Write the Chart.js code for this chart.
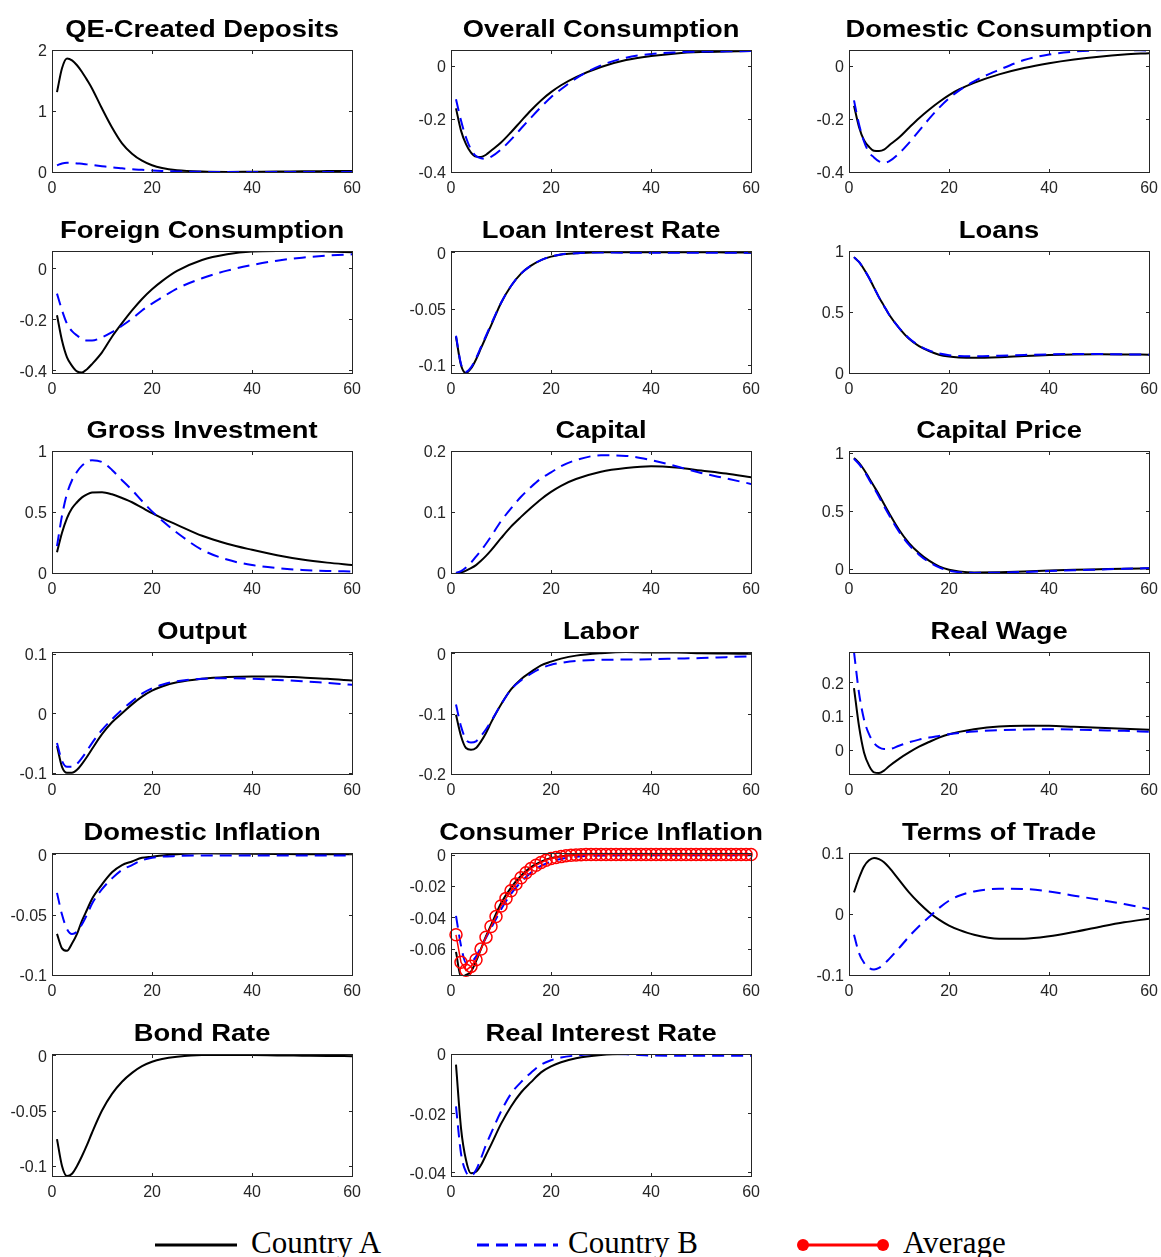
<!DOCTYPE html>
<html>
<head>
<meta charset="utf-8">
<script src="https://cdn.jsdelivr.net/npm/chart.js@4.4.1/dist/chart.umd.min.js"></script>
<style>
html, body { margin: 0; padding: 0; background: #fff; width: 1161px; height: 1257px; overflow: hidden; }
canvas.panel { position: absolute; }
#legend { position: absolute; left: 0; top: 1215px; }
</style>
</head>
<body>
<svg id="legend" width="1161" height="42">
	<line x1="155" y1="30" x2="237" y2="30" stroke="#000" stroke-width="3"/>
	<text x="251" y="38" font-family="Liberation Serif" font-size="31" fill="#000">Country A</text>
	<line x1="477" y1="30" x2="558" y2="30" stroke="#0000ff" stroke-width="3" stroke-dasharray="12 7"/>
	<text x="568" y="38" font-family="Liberation Serif" font-size="31" fill="#000">Country B</text>
	<line x1="803" y1="30" x2="883" y2="30" stroke="#ff0000" stroke-width="3"/>
	<circle cx="803" cy="30" r="6" fill="#ff0000"/>
	<circle cx="883" cy="30" r="6" fill="#ff0000"/>
	<text x="903" y="38" font-family="Liberation Serif" font-size="31" fill="#000">Average</text>
</svg>
<script>
var periods = [1, 2, 3, 4, 5, 6, 7, 8, 10, 12, 14, 16, 18, 20, 22, 25, 30, 35, 40, 45, 50, 55, 60];
var xTicks = [0, 20, 40, 60];

var qeA = [1.31, 1.70, 1.86, 1.83, 1.75, 1.64, 1.51, 1.37, 1.04, 0.73, 0.47, 0.30, 0.185, 0.11, 0.065, 0.03, 0.008, 0.002, 0.005, 0.008, 0.012, 0.015, 0.018];
var qeB = [0.11, 0.14, 0.15, 0.15, 0.14, 0.135, 0.125, 0.115, 0.095, 0.075, 0.06, 0.045, 0.035, 0.025, 0.018, 0.01, 0.003, 0, 0, 0, 0, 0, 0];

var overallA = [-0.16, -0.244, -0.295, -0.327, -0.342, -0.343, -0.335, -0.32, -0.289, -0.25, -0.208, -0.167, -0.13, -0.099, -0.073, -0.042, -0.004, 0.022, 0.037, 0.047, 0.052, 0.054, 0.056];
var overallB = [-0.126, -0.206, -0.27, -0.315, -0.34, -0.348, -0.35, -0.343, -0.315, -0.278, -0.236, -0.195, -0.155, -0.118, -0.088, -0.047, 0.002, 0.031, 0.045, 0.051, 0.054, 0.055, 0.056];

var domA = [-0.15, -0.23, -0.28, -0.305, -0.32, -0.321, -0.316, -0.30, -0.27, -0.233, -0.197, -0.165, -0.136, -0.11, -0.089, -0.064, -0.032, -0.008, 0.01, 0.024, 0.035, 0.043, 0.048];
var domB = [-0.13, -0.22, -0.285, -0.326, -0.345, -0.36, -0.365, -0.36, -0.33, -0.29, -0.245, -0.2, -0.158, -0.122, -0.093, -0.058, -0.015, 0.022, 0.043, 0.054, 0.059, 0.06, 0.058];

var forA = [-0.184, -0.283, -0.349, -0.382, -0.404, -0.408, -0.395, -0.375, -0.329, -0.268, -0.215, -0.165, -0.12, -0.082, -0.05, -0.01, 0.033, 0.055, 0.066, 0.068, 0.068, 0.066, 0.063];
var forB = [-0.099, -0.164, -0.217, -0.246, -0.263, -0.276, -0.283, -0.283, -0.27, -0.25, -0.225, -0.197, -0.165, -0.138, -0.114, -0.079, -0.039, -0.009, 0.013, 0.03, 0.042, 0.05, 0.055];

var loanRateA = [-0.075, -0.1, -0.107, -0.103, -0.095, -0.085, -0.075, -0.065, -0.045, -0.03, -0.019, -0.012, -0.007, -0.004, -0.002, -0.001, 0, 0, 0, 0, 0, -0.0003, -0.0005];
var loanRateB = [-0.074, -0.099, -0.106, -0.102, -0.094, -0.084, -0.074, -0.064, -0.045, -0.03, -0.019, -0.012, -0.007, -0.004, -0.002, -0.001, -0.0003, -0.0005, -0.0005, -0.0006, -0.0006, -0.0006, -0.0006];

var loansA = [0.95, 0.91, 0.85, 0.78, 0.7, 0.62, 0.55, 0.48, 0.37, 0.28, 0.22, 0.18, 0.15, 0.135, 0.128, 0.125, 0.13, 0.14, 0.148, 0.152, 0.153, 0.152, 0.15];
var loansB = [0.95, 0.91, 0.85, 0.78, 0.7, 0.62, 0.55, 0.48, 0.37, 0.285, 0.225, 0.185, 0.16, 0.146, 0.14, 0.138, 0.142, 0.148, 0.153, 0.156, 0.155, 0.153, 0.15];

var invA = [0.17, 0.33, 0.45, 0.53, 0.58, 0.62, 0.645, 0.66, 0.662, 0.645, 0.615, 0.58, 0.535, 0.49, 0.45, 0.395, 0.305, 0.24, 0.19, 0.145, 0.11, 0.085, 0.066];
var invB = [0.22, 0.47, 0.65, 0.76, 0.83, 0.88, 0.91, 0.925, 0.91, 0.845, 0.76, 0.68, 0.59, 0.505, 0.43, 0.33, 0.19, 0.11, 0.065, 0.04, 0.025, 0.017, 0.012];

var capA = [0, 0.001, 0.004, 0.008, 0.013, 0.02, 0.028, 0.037, 0.057, 0.076, 0.092, 0.107, 0.121, 0.133, 0.143, 0.154, 0.166, 0.172, 0.175, 0.173, 0.168, 0.163, 0.157];
var capB = [0, 0.003, 0.009, 0.017, 0.027, 0.037, 0.048, 0.06, 0.085, 0.106, 0.125, 0.141, 0.155, 0.165, 0.175, 0.185, 0.193, 0.192, 0.185, 0.175, 0.164, 0.155, 0.146];

var cpA = [0.957, 0.914, 0.856, 0.785, 0.713, 0.64, 0.56, 0.483, 0.339, 0.224, 0.138, 0.072, 0.023, -0.006, -0.02, -0.029, -0.027, -0.021, -0.013, -0.007, -0.002, 0.003, 0.007];
var cpB = [0.95, 0.905, 0.845, 0.772, 0.698, 0.622, 0.542, 0.465, 0.322, 0.208, 0.124, 0.06, 0.014, -0.014, -0.027, -0.033, -0.031, -0.025, -0.017, -0.01, -0.004, 0.002, 0.007];

var outA = [-0.055, -0.09, -0.1, -0.1, -0.095, -0.085, -0.073, -0.06, -0.035, -0.015, 0, 0.015, 0.028, 0.038, 0.045, 0.052, 0.058, 0.061, 0.062, 0.062, 0.06, 0.058, 0.055];
var outB = [-0.05, -0.08, -0.09, -0.09, -0.085, -0.075, -0.063, -0.05, -0.028, -0.01, 0.006, 0.02, 0.033, 0.042, 0.048, 0.054, 0.058, 0.059, 0.058, 0.056, 0.054, 0.051, 0.048];

var labA = [-0.102, -0.137, -0.157, -0.16, -0.157, -0.146, -0.132, -0.115, -0.085, -0.06, -0.043, -0.031, -0.02, -0.014, -0.009, -0.004, 0, 0.002, 0.001, 0.001, 0, -0.0005, -0.001];
var labB = [-0.085, -0.121, -0.143, -0.148, -0.146, -0.137, -0.126, -0.113, -0.085, -0.06, -0.045, -0.034, -0.025, -0.019, -0.016, -0.013, -0.011, -0.0105, -0.01, -0.009, -0.008, -0.0065, -0.005];

var wageA = [0.183, 0.07, -0.008, -0.047, -0.067, -0.069, -0.062, -0.049, -0.027, -0.008, 0.009, 0.023, 0.036, 0.046, 0.053, 0.061, 0.069, 0.071, 0.071, 0.068, 0.065, 0.062, 0.059];
var wageB = [0.29, 0.169, 0.09, 0.046, 0.02, 0.007, 0.002, 0.002, 0.012, 0.022, 0.03, 0.036, 0.041, 0.046, 0.05, 0.054, 0.058, 0.06, 0.061, 0.06, 0.058, 0.056, 0.053];

var dinfA = [-0.066, -0.078, -0.08, -0.074, -0.066, -0.055, -0.046, -0.037, -0.025, -0.015, -0.009, -0.006, -0.003, -0.002, -0.001, 0, 0.0008, 0.0006, 0.0004, 0.0002, 0, 0, 0];
var dinfB = [-0.032, -0.05, -0.062, -0.066, -0.064, -0.058, -0.05, -0.041, -0.029, -0.02, -0.013, -0.009, -0.005, -0.003, -0.002, -0.0015, -0.001, -0.001, -0.001, -0.001, -0.001, -0.001, -0.001];

var cpiA = [-0.062, -0.078, -0.0767, -0.0745, -0.068, -0.06, -0.052, -0.045, -0.031, -0.021, -0.0135, -0.008, -0.0045, -0.0022, -0.001, -0.0002, 0.0003, 0.0002, 0.0001, 0, 0, 0, 0];
var cpiB = [-0.039, -0.058, -0.069, -0.0685, -0.065, -0.059, -0.053, -0.047, -0.035, -0.025, -0.0175, -0.0115, -0.0072, -0.0045, -0.0028, -0.0014, -0.0006, -0.0005, -0.0005, -0.0005, -0.0005, -0.0005, -0.0005];
// average is marked at every period 1..60
var cpiAvg = [
	-0.0511, -0.0686, -0.0737, -0.0712, -0.067, -0.0602, -0.0526, -0.0458, -0.0395, -0.0327,
	-0.0279, -0.023, -0.0188, -0.0148, -0.0116, -0.0089, -0.0068, -0.0051, -0.0036, -0.0025,
	-0.0019, -0.0013, -0.0008, -0.0004, -0.0002, -0.0001, 0, 0, 0, 0,
	0, 0, 0, 0, 0, 0, 0, 0, 0, 0,
	0, 0, 0, 0, 0, 0, 0, 0, 0, 0,
	0, 0, 0, 0, 0, 0, 0, 0, 0, 0
];

var totA = [0.0355, 0.059, 0.078, 0.088, 0.092, 0.09, 0.085, 0.0765, 0.056, 0.0355, 0.018, 0.003, -0.0093, -0.019, -0.026, -0.034, -0.0404, -0.0404, -0.0366, -0.0295, -0.0213, -0.0137, -0.0077];
var totB = [-0.034, -0.064, -0.08, -0.0885, -0.091, -0.0885, -0.082, -0.074, -0.056, -0.037, -0.02, -0.005, 0.0098, 0.0219, 0.03, 0.037, 0.0415, 0.041, 0.037, 0.03, 0.0235, 0.0164, 0.0082];

var bondA = [-0.0757, -0.1, -0.109, -0.107, -0.1, -0.091, -0.081, -0.07, -0.05, -0.035, -0.024, -0.016, -0.01, -0.006, -0.0035, -0.0015, 0, 0, 0, -0.0003, -0.0005, -0.0007, -0.001];

var rirA = [-0.0036, -0.025, -0.0358, -0.0403, -0.0398, -0.0375, -0.0341, -0.0307, -0.0236, -0.0177, -0.013, -0.0095, -0.0062, -0.0042, -0.0028, -0.0014, -0.0003, 0, 0, 0, 0, 0, 0];
var rirB = [-0.0177, -0.0336, -0.0398, -0.0412, -0.0392, -0.0352, -0.0307, -0.0268, -0.0194, -0.0134, -0.0095, -0.0063, -0.0036, -0.0021, -0.0012, -0.0005, 0, -0.0001, -0.0005, -0.0006, -0.0006, -0.0006, -0.0006];

// panel list: title, y limits, y ticks, series
var panels = [
	{ title: 'QE-Created Deposits', ymin: 0, ymax: 2, yt: [0, 1, 2], a: qeA, b: qeB },
	{ title: 'Overall Consumption', ymin: -0.4, ymax: 0.06, yt: [-0.4, -0.2, 0], a: overallA, b: overallB },
	{ title: 'Domestic Consumption', ymin: -0.4, ymax: 0.06, yt: [-0.4, -0.2, 0], a: domA, b: domB },
	{ title: 'Foreign Consumption', ymin: -0.41, ymax: 0.068, yt: [-0.4, -0.2, 0], a: forA, b: forB },
	{ title: 'Loan Interest Rate', ymin: -0.107, ymax: 0.001, yt: [-0.1, -0.05, 0], a: loanRateA, b: loanRateB },
	{ title: 'Loans', ymin: 0, ymax: 1, yt: [0, 0.5, 1], a: loansA, b: loansB },
	{ title: 'Gross Investment', ymin: 0, ymax: 1, yt: [0, 0.5, 1], a: invA, b: invB },
	{ title: 'Capital', ymin: 0, ymax: 0.2, yt: [0, 0.1, 0.2], a: capA, b: capB },
	{ title: 'Capital Price', ymin: -0.034, ymax: 1.017, yt: [0, 0.5, 1], a: cpA, b: cpB },
	{ title: 'Output', ymin: -0.102, ymax: 0.103, yt: [-0.1, 0, 0.1], a: outA, b: outB },
	{ title: 'Labor', ymin: -0.2, ymax: 0.002, yt: [-0.2, -0.1, 0], a: labA, b: labB },
	{ title: 'Real Wage', ymin: -0.072, ymax: 0.29, yt: [0, 0.1, 0.2], a: wageA, b: wageB },
	{ title: 'Domestic Inflation', ymin: -0.1, ymax: 0.001, yt: [-0.1, -0.05, 0], a: dinfA, b: dinfB },
	{ title: 'Consumer Price Inflation', ymin: -0.0767, ymax: 0.001, yt: [-0.06, -0.04, -0.02, 0], a: cpiA, b: cpiB, avg: cpiAvg },
	{ title: 'Terms of Trade', ymin: -0.1, ymax: 0.1, yt: [-0.1, 0, 0.1], a: totA, b: totB },
	{ title: 'Bond Rate', ymin: -0.109, ymax: 0.001, yt: [-0.1, -0.05, 0], a: bondA },
	{ title: 'Real Interest Rate', ymin: -0.0412, ymax: 0, yt: [-0.04, -0.02, 0], a: rirA, b: rirB }
];

var colLeft = [52, 451, 849];
var rowTop = [50, 251, 451, 652, 853, 1054];
var plotW = 302, plotH = 122;
var padL = 52, padT = 50, padR = 14, padB = 30;
var axisColor = '#262626';
var tickFont = { family: 'Liberation Sans', size: 16 };

// MATLAB style box, inward ticks and title
var matlabAxes = {
	id: 'matlabAxes',
	afterDraw: function (chart, args, opts) {
		var ctx = chart.ctx, a = chart.chartArea;
		var xs = chart.scales.x, ys = chart.scales.y;
		ctx.save();
		ctx.strokeStyle = axisColor;
		ctx.lineWidth = 1;
		var l = Math.round(a.left) + 0.5, r = Math.round(a.right) + 0.5;
		var t = Math.round(a.top) + 0.5, b = Math.round(a.bottom) + 0.5;
		ctx.strokeRect(l, t, r - l, b - t);
		ctx.beginPath();
		xs.ticks.forEach(function (tk) {
			var p = Math.round(xs.getPixelForValue(tk.value)) + 0.5;
			ctx.moveTo(p, b); ctx.lineTo(p, b - 3.5);
			ctx.moveTo(p, t); ctx.lineTo(p, t + 3.5);
		});
		ys.ticks.forEach(function (tk) {
			var p = Math.round(ys.getPixelForValue(tk.value)) + 0.5;
			ctx.moveTo(l, p); ctx.lineTo(l + 3.5, p);
			ctx.moveTo(r, p); ctx.lineTo(r - 3.5, p);
		});
		ctx.stroke();
		ctx.font = 'bold 24px "Liberation Sans"';
		ctx.fillStyle = '#000';
		ctx.textAlign = 'center';
		ctx.textBaseline = 'alphabetic';
		ctx.translate((a.left + a.right) / 2, a.top - 13);
		ctx.scale(1.14, 1);
		ctx.fillText(opts.text, 0, 0);
		ctx.restore();
	}
};

function pts(xs, ys) {
	return xs.map(function (x, i) { return { x: x, y: ys[i] }; });
}

function lineSet(label, data, color, dash) {
	return {
		label: label,
		data: data,
		borderColor: color,
		borderWidth: 2,
		borderDash: dash || [],
		pointRadius: 0,
		fill: false,
		cubicInterpolationMode: 'monotone'
	};
}

panels.forEach(function (p, i) {
	var row = Math.floor(i / 3), col = i % 3;
	var canvas = document.createElement('canvas');
	canvas.className = 'panel';
	canvas.width = plotW + padL + padR;
	canvas.height = plotH + padT + padB;
	canvas.style.left = (colLeft[col] - padL) + 'px';
	canvas.style.top = (rowTop[row] - padT) + 'px';
	document.body.appendChild(canvas);

	// first dataset is drawn on top
	var datasets = [];
	if (p.avg) {
		var avgX = p.avg.map(function (v, k) { return k + 1; });
		datasets.push({
			label: 'Average',
			data: pts(avgX, p.avg),
			borderColor: '#ff0000',
			borderWidth: 1.5,
			pointStyle: 'circle',
			pointRadius: 6,
			pointBorderWidth: 1.5,
			pointBorderColor: '#ff0000',
			pointBackgroundColor: 'rgba(0,0,0,0)',
			fill: false,
			tension: 0,
			clip: false
		});
	}
	if (p.b) datasets.push(lineSet('Country B', pts(periods, p.b), '#0000ff', [12, 7]));
	datasets.push(lineSet('Country A', pts(periods, p.a), '#000000'));

	new Chart(canvas.getContext('2d'), {
		type: 'line',
		data: { datasets: datasets },
		plugins: [matlabAxes],
		options: {
			responsive: false,
			animation: false,
			events: [],
			layout: { padding: { left: 0, top: padT, right: padR, bottom: 0 } },
			plugins: {
				legend: { display: false },
				tooltip: { enabled: false },
				matlabAxes: { text: p.title }
			},
			scales: {
				x: {
					type: 'linear',
					min: 0,
					max: 60,
					afterBuildTicks: function (ax) { ax.ticks = xTicks.map(function (v) { return { value: v }; }); },
					afterFit: function (ax) { ax.height = padB; },
					grid: { display: false, drawTicks: false },
					border: { display: false },
					ticks: { padding: 7, color: axisColor, font: tickFont, autoSkip: false, maxRotation: 0, callback: function (v) { return String(v); } }
				},
				y: {
					type: 'linear',
					min: p.ymin,
					max: p.ymax,
					afterBuildTicks: function (ax) { ax.ticks = p.yt.map(function (v) { return { value: v }; }); },
					afterFit: function (ax) { ax.width = padL; },
					grid: { display: false, drawTicks: false },
					border: { display: false },
					ticks: { padding: 5, labelOffset: 2, color: axisColor, font: tickFont, autoSkip: false, callback: function (v) { return String(v); } }
				}
			}
		}
	});
});
</script>
</body>
</html>
